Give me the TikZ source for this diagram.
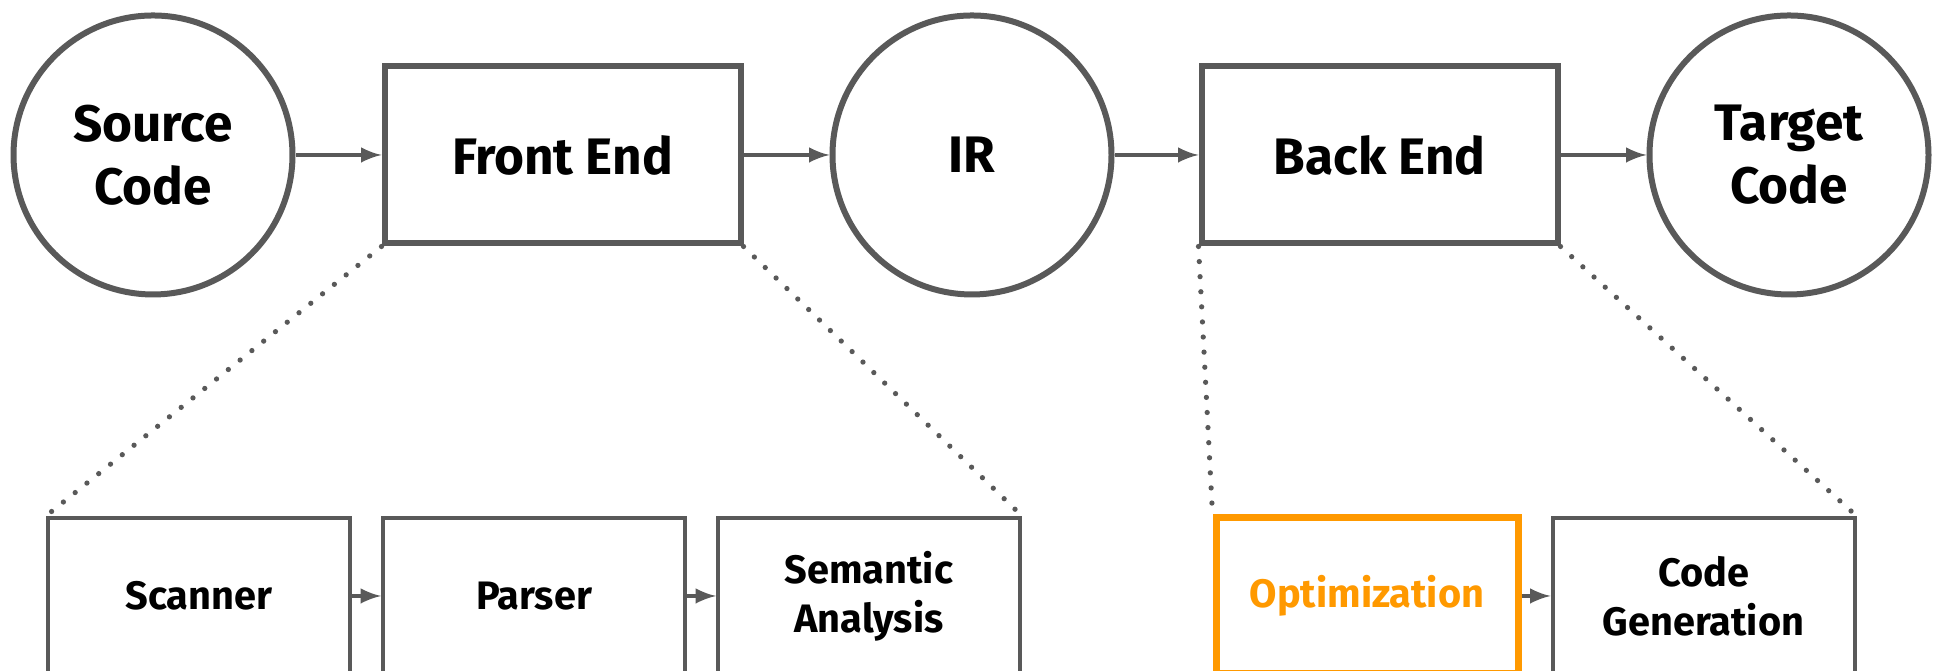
\documentclass[tikz,border=0pt]{standalone}
\usepackage{fontspec}
\setmainfont{Fira Sans}
\usepackage{tikz}
\usetikzlibrary{arrows,calc,positioning}
\definecolor{edgegray}{HTML}{595959}
\definecolor{optorange}{HTML}{FF9900}
\tikzset{
        stage/.style = {draw=edgegray, rectangle, line width=0.06cm,
            minimum height=1.77cm,
            minimum width=3.56cm,
            font=\fontsize{14.6}{18}\selectfont\bfseries},
        code/.style = {draw=edgegray, circle, line width=0.06cm,
            minimum size=2.79cm, align=center,
            font=\fontsize{14.6}{18}\selectfont\bfseries},
        phase/.style = {draw=edgegray, rectangle, line width=0.04cm,
            minimum height=1.56cm,
            minimum width=3.02cm, align=center,
            font=\fontsize{11.3}{14}\selectfont\bfseries},
        arrow/.style={draw=edgegray, -latex, line width=0.035cm},
        zoomline/.style = {draw=edgegray, line width=1.5pt, line cap=round,
            dash pattern=on 0pt off 4.3pt},
    }

\begin{document}
\begin{tikzpicture}
    \clip (0,0) rectangle (19.39,6.71);

    % top row
    \node[code] (src) at (1.53,5.16) {Source\\Code};
    \node[stage, right=0.86cm of src] (fe) {Front End};
    \node[code, right=0.86cm of fe] (ir) {IR};
    \node[stage, right=0.84cm of ir] (be) {Back End};
    \node[code, right=0.86cm of be] (tgt) {Target\\Code};

    \draw[arrow] (src) -- (fe);
    \draw[arrow] (fe) -- (ir);
    \draw[arrow] (ir) -- (be);
    \draw[arrow] (be) -- (tgt);

    % front end phases
    \node[phase] (scan) at (1.99,0.75) {Scanner};
    \node[phase, right=0.29cm of scan] (parse) {Parser};
    \node[phase, right=0.29cm of parse] (sema) {Semantic\\Analysis};

    % back end phases
    \node[phase, draw=optorange, line width=0.07cm, text=optorange] (opt) at (13.67,0.75) {Optimization};
    \node[phase, right=0.29cm of opt] (gen) {Code\\Generation};

    \draw[arrow] (scan) -- (parse);
    \draw[arrow] (parse) -- (sema);
    \draw[arrow] (opt) -- (gen);

    \draw[zoomline] (fe.south west) -- (scan.north west);
    \draw[zoomline] (fe.south east) -- (sema.north east);
    \draw[zoomline] (be.south west) -- (opt.north west);
    \draw[zoomline] (be.south east) -- (gen.north east);
\end{tikzpicture}
\end{document}
